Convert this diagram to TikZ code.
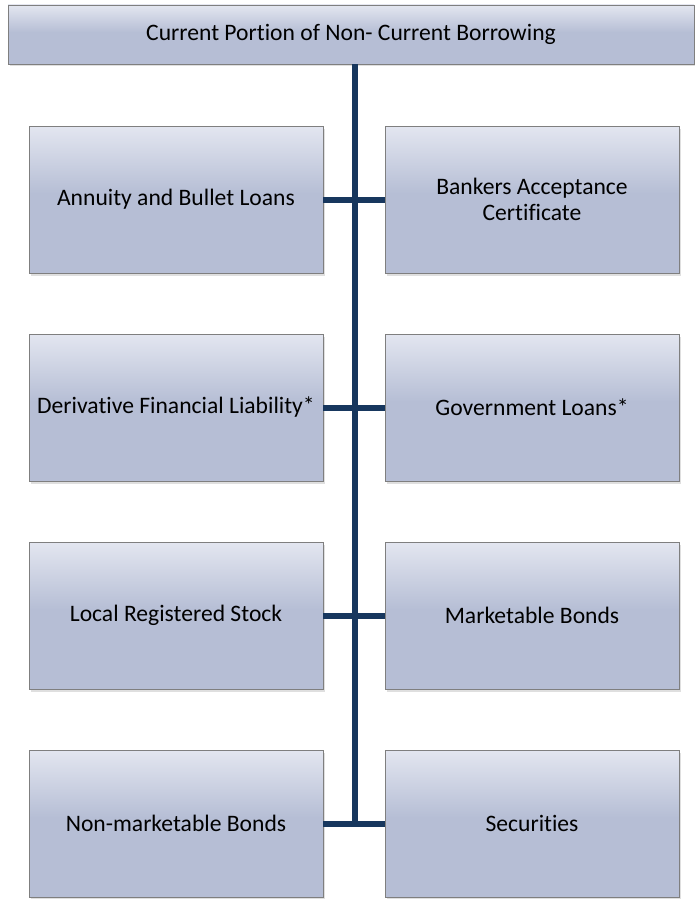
\documentclass[tikz,border=0pt]{standalone}
\usepackage{fontspec}
\setmainfont[Ligatures={NoCommon}]{Carlito}
\usetikzlibrary{shadows}
\definecolor{boxtop}{HTML}{E3E6F0}
\definecolor{boxmid}{HTML}{B6BED5}
\definecolor{boxline}{HTML}{7F7F7F}
\definecolor{conncol}{HTML}{17375E}
\pgfdeclareverticalshading{boxshade}{100bp}{color(0bp)=(boxmid); color(25bp)=(boxmid); color(52bp)=(boxmid); color(75bp)=(boxtop); color(100bp)=(boxtop)}
\tikzset{
  box/.style={draw=boxline, line width=0.7pt, shading=boxshade, inner sep=2pt,
    align=center, font=\fontsize{23.6}{26}\selectfont, text=black,
    minimum width=294pt, minimum height=147pt,
    drop shadow={opacity=0.25, shadow xshift=1.5pt, shadow yshift=-2.5pt}},
  headbox/.style={box, minimum width=686pt, minimum height=59pt},
  conn/.style={draw=conncol, line width=6pt}
}
\begin{document}
\begin{tikzpicture}[x=1pt, y=-1pt]
\useasboundingbox (0,0) rectangle (694,899);
\node[headbox] (top) at (351,34.5) {Current Portion of Non- Current Borrowing};
\node[box] (a1) at (176,199.5) {Annuity and Bullet Loans};
\node[box] (b1) at (532,199.5) {Bankers Acceptance\\Certificate};
\node[box] (a2) at (176,407.5) {Derivative Financial Liability*};
\node[box] (b2) at (532,407.5) {Government Loans*};
\node[box] (a3) at (176,615.5) {Local Registered Stock};
\node[box] (b3) at (532,615.5) {Marketable Bonds};
\node[box] (a4) at (176,823.5) {Non-marketable Bonds};
\node[box] (b4) at (532,823.5) {Securities};
\coordinate (trunkend) at (355,826.5);
\draw[conn] (top.south -| trunkend) -- (trunkend);
\draw[conn] (a1.east) -- (b1.west);
\draw[conn] (a2.east) -- (b2.west);
\draw[conn] (a3.east) -- (b3.west);
\draw[conn] (a4.east) -- (b4.west);
\end{tikzpicture}
\end{document}
